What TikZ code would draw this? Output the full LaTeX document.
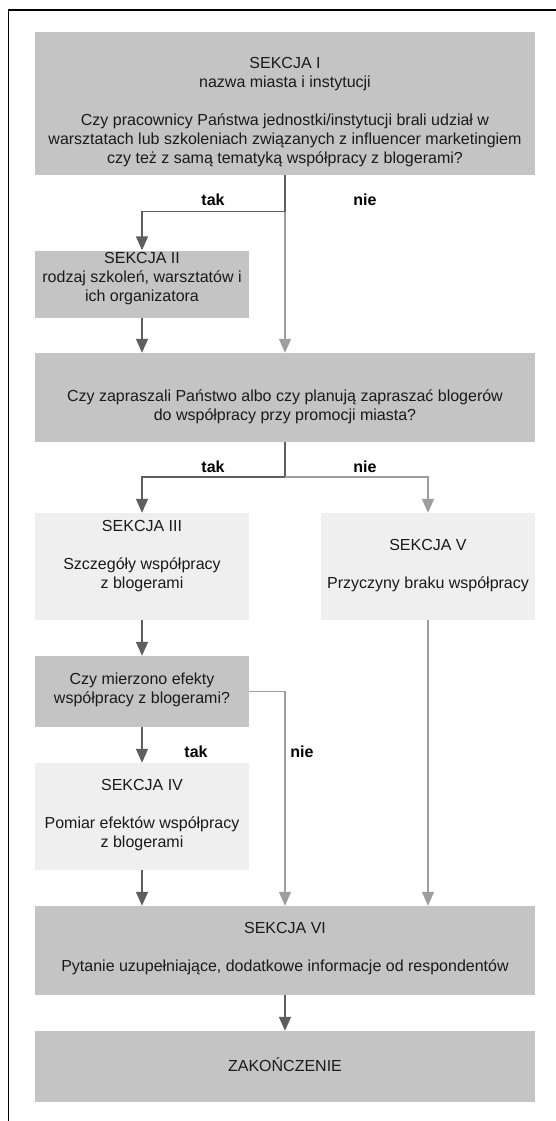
\documentclass[tikz,border=0pt]{standalone}
\usepackage{fontspec}
\setmainfont{Liberation Sans}
\usetikzlibrary{arrows.meta}
\definecolor{boxdark}{HTML}{C4C4C4}
\definecolor{boxlight}{HTML}{EFEFEF}
\definecolor{arrdark}{HTML}{5E5E5E}
\definecolor{arrlight}{HTML}{9E9E9E}
\definecolor{txtcol}{HTML}{1A1A1A}
\tikzset{
  darkbox/.style={rectangle, fill=boxdark, draw=none, inner sep=0pt},
  lightbox/.style={rectangle, fill=boxlight, draw=none, inner sep=0pt},
  boxtext/.style={align=center, inner sep=0pt, text=txtcol, font=\fontsize{16}{19}\selectfont},
  lbl/.style={inner sep=0pt, text=black, font=\fontsize{16}{19}\selectfont\bfseries},
  darkline/.style={draw=arrdark, line width=1.6pt},
  lightline/.style={draw=arrlight, line width=1.6pt},
  darkarr/.style={darkline, -{Triangle[width=12pt,length=14pt]}},
  lightarr/.style={lightline, -{Triangle[width=12pt,length=14pt]}},
}
\begin{document}
\begin{tikzpicture}[x=1pt,y=-1pt]
\useasboundingbox (0,0) rectangle (556,1121);
\draw[black, line width=1.3pt] (8.5,1121) -- (8.5,10) -- (556,10);

% boxes
\node[darkbox, minimum width=500pt, minimum height=143pt] (s1) at (285,103.5) {};
\node[darkbox, minimum width=214pt, minimum height=67pt] (s2) at (142,284) {};
\node[darkbox, minimum width=500pt, minimum height=89pt] (q2) at (285,397.5) {};
\node[lightbox, minimum width=214pt, minimum height=107pt] (s3) at (142,566.5) {};
\node[lightbox, minimum width=214pt, minimum height=107pt] (s5) at (428,566.5) {};
\node[darkbox, minimum width=214pt, minimum height=71pt] (q3) at (142,691.5) {};
\node[lightbox, minimum width=214pt, minimum height=107pt] (s4) at (142,816.5) {};
\node[darkbox, minimum width=500pt, minimum height=89pt] (s6) at (285,950.5) {};
\node[darkbox, minimum width=500pt, minimum height=71pt] (zak) at (285,1066.5) {};

% texts
\node[boxtext] (s1t) at (285,112) {SEKCJA I\\nazwa miasta i instytucji\\[19pt]Czy pracownicy Państwa jednostki/instytucji brali udział w\\warsztatach lub szkoleniach związanych z influencer marketingiem\\czy też z samą tematyką współpracy z blogerami?};
\node[boxtext] (s2t) at (142,279) {SEKCJA II\\rodzaj szkoleń, warsztatów i\\ich organizatora};
\node[boxtext] (q2t) at (285,406.5) {Czy zapraszali Państwo albo czy planują zapraszać blogerów\\do współpracy przy promocji miasta?};
\node[boxtext] (s3t) at (142,556.5) {SEKCJA III\\[19pt]Szczegóły współpracy\\z blogerami};
\node[boxtext] (s5t) at (428,566) {SEKCJA V\\[19pt]Przyczyny braku współpracy};
\node[boxtext] (q3t) at (142,690) {Czy mierzono efekty\\współpracy z blogerami?};
\node[boxtext] (s4t) at (142,815.5) {SEKCJA IV\\[19pt]Pomiar efektów współpracy\\z blogerami};
\node[boxtext] (s6t) at (285,949) {SEKCJA VI\\[19pt]Pytanie uzupełniające, dodatkowe informacje od respondentów};
\node[boxtext] (zakt) at (285,1064.5) {ZAKOŃCZENIE};

% junctions
\coordinate (j1) at (285,211.5);
\coordinate (j2) at (285,477);

% connectors
\draw[darkline] (s1.south) -- (j1);
\draw[darkarr] (j1) -| (s2.north);
\draw[lightarr] (j1) -- (q2.north);
\draw[darkarr] (s2.south) -- (s2.south |- q2.north);

\draw[darkline] (q2.south) -- (j2);
\draw[darkarr] (j2) -| (s3.north);
\draw[lightarr] (j2) -| (s5.north);

\draw[darkarr] (s3.south) -- (q3.north);
\draw[darkarr] (q3.south) -- (s4.north);
\draw[lightarr] (q3.east) -| (s6.north);
\draw[darkarr] (s4.south) -- (s4.south |- s6.north);
\draw[lightarr] (s5.south) -- (s5.south |- s6.north);
\draw[darkarr] (s6.south) -- (zak.north);

% labels
\node[lbl] (l1) at (213,200) {tak};
\node[lbl] (l2) at (365,200) {nie};
\node[lbl] (l3) at (213,467) {tak};
\node[lbl] (l4) at (365,467) {nie};
\node[lbl] (l5) at (196,752) {tak};
\node[lbl] (l6) at (302,752) {nie};
\end{tikzpicture}
\end{document}
